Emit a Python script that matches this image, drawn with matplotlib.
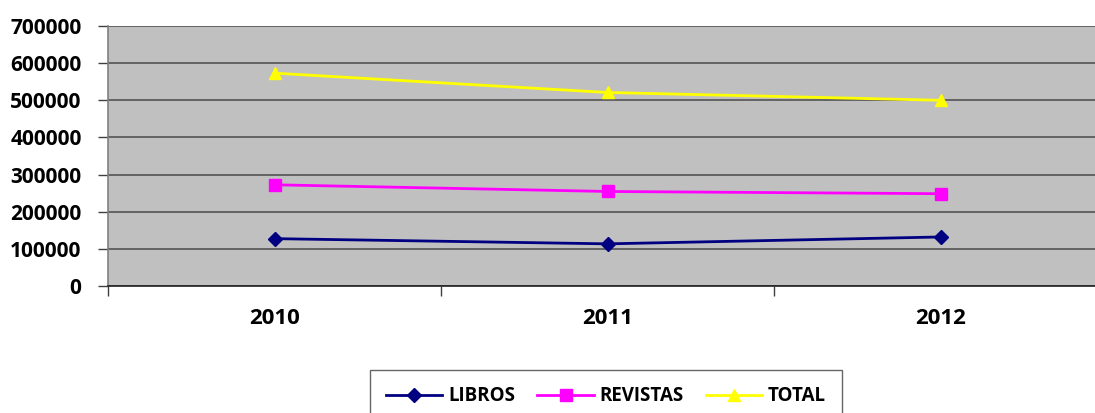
import matplotlib.pyplot as plt
from matplotlib.ticker import FixedLocator, NullFormatter

years = ["2010", "2011", "2012"]
libros = [127500, 113500, 132000]
revistas = [272500, 254500, 248500]
total = [573000, 521000, 500000]
y_ticks = [0, 100000, 200000, 300000, 400000, 500000, 600000, 700000]

W, H = 1095, 413
plt.rcParams["font.family"] = ["Open Sans", "DejaVu Sans"]
fig = plt.figure(figsize=(W / 100, H / 100), dpi=100, facecolor="white")

# plot area runs past the right edge of the picture (cropped in the reference)
left, right, top, bottom = 108, 1107, 26, 286
ax = fig.add_axes([left / W, 1 - bottom / H, (right - left) / W, (bottom - top) / H])
ax.set_facecolor("#C0C0C0")

x = list(range(len(years)))
ax.plot(x, libros, color="#000080", lw=2, marker="D", ms=7, label="LIBROS", zorder=3)
ax.plot(x, revistas, color="#FF00FF", lw=2, marker="s", ms=9, label="REVISTAS", zorder=3)
ax.plot(x, total, color="#FFFF00", lw=2, marker="^", ms=9, label="TOTAL", zorder=3)

ax.set_xlim(-0.5, 2.5)
ax.set_ylim(0, 700000)
ax.set_yticks(y_ticks)
ax.set_yticklabels([str(v) for v in y_ticks], fontsize=15, fontweight="bold")
ax.yaxis.grid(True, color="#4a4a4a", lw=1.1)
ax.set_axisbelow(True)
ax.tick_params(axis="y", length=7, width=1, color="#404040", pad=12)

# category labels at centres, tick marks between categories
ax.set_xticks(x)
ax.set_xticklabels(years, fontsize=16, fontweight="bold")
ax.tick_params(axis="x", which="major", length=0, pad=16)
ax.xaxis.set_minor_locator(FixedLocator([-0.5, 0.5, 1.5, 2.5]))
ax.xaxis.set_minor_formatter(NullFormatter())
ax.tick_params(axis="x", which="minor", length=7, width=1, color="#404040")

for side in ["top", "right"]:
    ax.spines[side].set_visible(False)
ax.spines["left"].set_color("#808080")
ax.spines["left"].set_linewidth(1.2)
ax.spines["bottom"].set_color("#202020")
ax.spines["bottom"].set_linewidth(1.2)

leg = fig.legend(
    loc="upper center",
    bbox_to_anchor=(606 / W, 1 - 361 / H),
    ncol=3,
    frameon=True,
    fancybox=False,
    edgecolor="#404040",
    prop={"weight": "bold", "size": 13.5},
    handlelength=3.0,
    columnspacing=1.2,
    handletextpad=0.3,
    borderpad=0.85,
)
leg.get_frame().set_linewidth(1.0)

fig.savefig("out.png", dpi=100)
